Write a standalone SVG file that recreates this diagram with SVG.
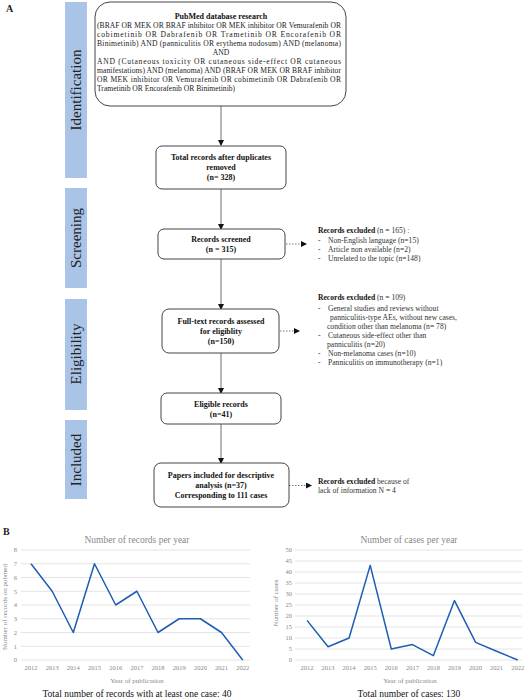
<svg xmlns="http://www.w3.org/2000/svg" width="524" height="700" viewBox="0 0 524 700">
<defs>
<marker id="ah" markerWidth="6" markerHeight="6" refX="5" refY="3" orient="auto" markerUnits="userSpaceOnUse">
<path d="M0,0 L6,3 L0,6 Z" fill="#111"/>
</marker>
<style>
.bar{fill:#a9c4e7}
.bart{font-family:"Liberation Serif",serif;font-size:15px;fill:#222;text-anchor:middle}
.box{fill:#fff;stroke:#444;stroke-width:1}
.bt{font-family:"Liberation Serif",serif;font-size:8px;font-weight:bold;fill:#111;text-anchor:middle}
.st{font-family:"Liberation Serif",serif;font-size:7.6px;fill:#222}
.ex{font-family:"Liberation Serif",serif;font-size:7.6px;fill:#333}
.exb{font-weight:bold;fill:#111}
.con{stroke:#888;stroke-width:1.2;fill:none}
.dot{stroke:#555;stroke-width:0.8;stroke-dasharray:1.5,1.5;fill:none}
.grid{stroke:#e4e4e4;stroke-width:1}
.tick{font-family:"Liberation Serif",serif;font-size:6.5px;fill:#888}
.ctitle{font-family:"Liberation Serif",serif;font-size:9.5px;fill:#888;text-anchor:middle}
.axl{font-family:"Liberation Serif",serif;font-size:7px;fill:#888;text-anchor:middle}
.tot{font-family:"Liberation Serif",serif;font-size:9.5px;fill:#111;text-anchor:middle}
.line{stroke:#1f5db3;stroke-width:1.5;fill:none;stroke-linejoin:round}
.lab{font-family:"Liberation Serif",serif;font-size:10px;font-weight:bold;fill:#222}
</style>
</defs>
<rect width="524" height="700" fill="#fff"/>
<text class="lab" x="6" y="12">A</text>
<text class="lab" x="3" y="535">B</text>

<g id="stages">
<rect class="bar" x="65" y="2" width="22" height="176"/>
<text class="bart" transform="translate(81,90) rotate(-90)">Identification</text>
<rect class="bar" x="65" y="188" width="22" height="100"/>
<text class="bart" transform="translate(81,238) rotate(-90)">Screening</text>
<rect class="bar" x="65" y="299" width="22" height="111"/>
<text class="bart" transform="translate(81,354) rotate(-90)">Eligibility</text>
<rect class="bar" x="65" y="420" width="22" height="79"/>
<text class="bart" transform="translate(81,460) rotate(-90)">Included</text>
</g>

<g id="connectors">
<line class="con" x1="221" y1="106" x2="221" y2="145" marker-end="url(#ah)"/>
<line class="con" x1="221" y1="189" x2="221" y2="229" marker-end="url(#ah)"/>
<line class="con" x1="221" y1="259" x2="221" y2="309" marker-end="url(#ah)"/>
<line class="con" x1="221" y1="353" x2="221" y2="393" marker-end="url(#ah)"/>
<line class="con" x1="221" y1="424" x2="221" y2="463" marker-end="url(#ah)"/>
<line class="dot" x1="286" y1="244" x2="306" y2="244" marker-end="url(#ah)"/>
<line class="dot" x1="280" y1="331" x2="299" y2="331" marker-end="url(#ah)"/>
<line class="dot" x1="289" y1="485.5" x2="311" y2="485.5" marker-end="url(#ah)"/>
</g>

<g id="search">
<rect class="box" x="95" y="2" width="251" height="104" rx="15" ry="15"/>
<text class="bt" x="221" y="18.5">PubMed database research</text>
<text class="st" x="97" y="28" textLength="244" lengthAdjust="spacing">(BRAF OR MEK OR BRAF inhibitor OR MEK inhibitor OR Vemurafenib OR</text>
<text class="st" x="97" y="37" textLength="244" lengthAdjust="spacing">cobimetinib OR Dabrafenib OR Trametinib OR Encorafenib OR</text>
<text class="st" x="97" y="46" textLength="244" lengthAdjust="spacing">Binimetinib) AND (panniculitis OR erythema nodosum) AND (melanoma)</text>
<text class="st" x="221" y="55" text-anchor="middle">AND</text>
<text class="st" x="97" y="64" textLength="244" lengthAdjust="spacing">AND (Cutaneous toxicity OR cutaneous side-effect OR cutaneous</text>
<text class="st" x="97" y="73" textLength="244" lengthAdjust="spacing">manifestations) AND (melanoma) AND (BRAF OR MEK OR BRAF inhibitor</text>
<text class="st" x="97" y="82" textLength="244" lengthAdjust="spacing">OR MEK inhibitor OR Vemurafenib OR cobimetinib OR Dabrafenib OR</text>
<text class="st" x="97" y="91">Trametinib OR Encorafenib OR Binimetinib)</text>
</g>

<g id="total">
<rect class="box" x="156" y="146" width="130" height="43" rx="6" ry="6"/>
<text class="bt" x="221" y="159.5">Total records after duplicates</text>
<text class="bt" x="221" y="169.5">removed</text>
<text class="bt" x="221" y="179.5">(n= 328)</text>
</g>

<g id="screened">
<rect class="box" x="158" y="229" width="127" height="30" rx="6" ry="6"/>
<text class="bt" x="221" y="241.5">Records screened</text>
<text class="bt" x="221" y="251.5">(n = 315)</text>
</g>

<g id="excl1">
<text class="ex" x="318" y="233.2"><tspan class="exb">Records excluded</tspan> (n = 165) :</text>
<text class="ex" x="318" y="242.5">-</text><text class="ex" x="328" y="242.5">Non-English language (n=15)</text>
<text class="ex" x="318" y="251.5">-</text><text class="ex" x="328" y="251.5">Article non available (n=2)</text>
<text class="ex" x="318" y="260.5">-</text><text class="ex" x="328" y="260.5">Unrelated to the topic (n=148)</text>
</g>

<g id="fulltext">
<rect class="box" x="162" y="309" width="117" height="44" rx="7" ry="7"/>
<text class="bt" x="221" y="323.5">Full-text records assessed</text>
<text class="bt" x="221" y="333.5">for eligiblity</text>
<text class="bt" x="221" y="343.5">(n=150)</text>
</g>

<g id="excl2">
<text class="ex" x="318" y="300"><tspan class="exb">Records excluded</tspan> (n = 109)</text>
<text class="ex" x="318" y="310.5">-</text><text class="ex" x="328" y="310.5">General studies and reviews without</text>
<text class="ex" x="330" y="319.5">panniculitis-type AEs, without new cases,</text>
<text class="ex" x="327" y="329">condition other than melanoma (n= 78)</text>
<text class="ex" x="318" y="338">-</text><text class="ex" x="328" y="338">Cutaneous side-effect other than</text>
<text class="ex" x="327" y="346.5">panniculitis (n=20)</text>
<text class="ex" x="318" y="355.5">-</text><text class="ex" x="328" y="355.5">Non-melanoma cases (n=10)</text>
<text class="ex" x="318" y="364.5">-</text><text class="ex" x="328" y="364.5">Panniculitis on immunotherapy (n=1)</text>
</g>

<g id="eligible">
<rect class="box" x="161" y="393" width="120" height="31" rx="6" ry="6"/>
<text class="bt" x="221" y="406.5">Eligible records</text>
<text class="bt" x="221" y="416.5">(n=41)</text>
</g>

<g id="included">
<rect class="box" x="154" y="463" width="135" height="44" rx="7" ry="7"/>
<text class="bt" x="221" y="478.2">Papers included for descriptive</text>
<text class="bt" x="221" y="488.2">analysis (n=37)</text>
<text class="bt" x="221" y="498">Corresponding to 111 cases</text>
</g>

<g id="excl3">
<text class="ex" x="318" y="483.5"><tspan class="exb">Records excluded</tspan> because of</text>
<text class="ex" x="318" y="492.5">lack of information N = 4</text>
</g>

<g id="chart1">
<text class="ctitle" x="137" y="543">Number of records per year</text>
<g>
<line class="grid" x1="21" y1="550" x2="250" y2="550"/>
<line class="grid" x1="21" y1="563.75" x2="250" y2="563.75"/>
<line class="grid" x1="21" y1="577.5" x2="250" y2="577.5"/>
<line class="grid" x1="21" y1="591.25" x2="250" y2="591.25"/>
<line class="grid" x1="21" y1="605" x2="250" y2="605"/>
<line class="grid" x1="21" y1="618.75" x2="250" y2="618.75"/>
<line class="grid" x1="21" y1="632.5" x2="250" y2="632.5"/>
<line class="grid" x1="21" y1="646.25" x2="250" y2="646.25"/>
<line class="grid" x1="21" y1="660" x2="250" y2="660"/>
</g>
<g class="tick" text-anchor="end">
<text x="17" y="552.3">8</text>
<text x="17" y="566">7</text>
<text x="17" y="579.8">6</text>
<text x="17" y="593.5">5</text>
<text x="17" y="607.3">4</text>
<text x="17" y="621">3</text>
<text x="17" y="634.8">2</text>
<text x="17" y="648.5">1</text>
<text x="17" y="662.3">0</text>
</g>
<g class="tick" text-anchor="middle">
<text x="31" y="669.5">2012</text>
<text x="52.2" y="669.5">2013</text>
<text x="73.3" y="669.5">2014</text>
<text x="94.5" y="669.5">2015</text>
<text x="115.7" y="669.5">2016</text>
<text x="136.9" y="669.5">2017</text>
<text x="158" y="669.5">2018</text>
<text x="179.2" y="669.5">2019</text>
<text x="200.4" y="669.5">2020</text>
<text x="221.5" y="669.5">2021</text>
<text x="242.7" y="669.5">2022</text>
</g>
<text class="axl" transform="translate(7,607) rotate(-90)">Number of records on pubmed</text>
<text class="axl" x="137" y="682.5">Year of publication</text>
<polyline class="line" points="31,563.75 52.2,591.25 73.3,632.5 94.5,563.75 115.7,605 136.9,591.25 158,632.5 179.2,618.75 200.4,618.75 221.5,632.5 242.7,660"/>
<text class="tot" x="137" y="697">Total number of records with at least one case: 40</text>
</g>

<g id="chart2">
<text class="ctitle" x="409" y="543">Number of cases per year</text>
<g>
<line class="grid" x1="295" y1="550" x2="522" y2="550"/>
<line class="grid" x1="295" y1="561" x2="522" y2="561"/>
<line class="grid" x1="295" y1="572" x2="522" y2="572"/>
<line class="grid" x1="295" y1="583" x2="522" y2="583"/>
<line class="grid" x1="295" y1="594" x2="522" y2="594"/>
<line class="grid" x1="295" y1="605" x2="522" y2="605"/>
<line class="grid" x1="295" y1="616" x2="522" y2="616"/>
<line class="grid" x1="295" y1="627" x2="522" y2="627"/>
<line class="grid" x1="295" y1="638" x2="522" y2="638"/>
<line class="grid" x1="295" y1="649" x2="522" y2="649"/>
<line class="grid" x1="295" y1="660" x2="522" y2="660"/>
</g>
<g class="tick" text-anchor="end">
<text x="292" y="552.3">50</text>
<text x="292" y="563.3">45</text>
<text x="292" y="574.3">40</text>
<text x="292" y="585.3">35</text>
<text x="292" y="596.3">30</text>
<text x="292" y="607.3">25</text>
<text x="292" y="618.3">20</text>
<text x="292" y="629.3">15</text>
<text x="292" y="640.3">10</text>
<text x="292" y="651.3">5</text>
<text x="292" y="662.3">0</text>
</g>
<g class="tick" text-anchor="middle">
<text x="307" y="669.5">2012</text>
<text x="328.1" y="669.5">2013</text>
<text x="349.1" y="669.5">2014</text>
<text x="370.2" y="669.5">2015</text>
<text x="391.3" y="669.5">2016</text>
<text x="412.4" y="669.5">2017</text>
<text x="433.4" y="669.5">2018</text>
<text x="454.5" y="669.5">2019</text>
<text x="475.6" y="669.5">2020</text>
<text x="496.6" y="669.5">2021</text>
<text x="517.7" y="669.5">2022</text>
</g>
<text class="axl" transform="translate(278,603) rotate(-90)">Number of cases</text>
<text class="axl" x="410" y="682.5">Year of publication</text>
<polyline class="line" points="307,620.4 328.1,646.8 349.1,638 370.2,565.4 391.3,649 412.4,644.6 433.4,655.6 454.5,600.6 475.6,642.4 496.6,651.2 517.7,660"/>
<text class="tot" x="409" y="697">Total number of cases: 130</text>
</g>
</svg>
